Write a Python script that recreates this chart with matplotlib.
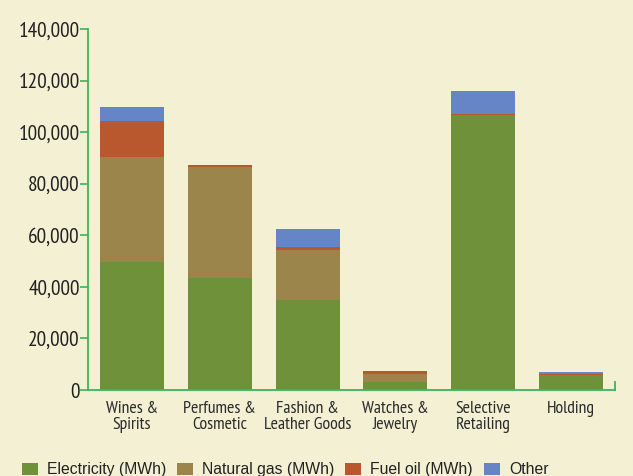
import matplotlib
matplotlib.use("Agg")
import matplotlib.pyplot as plt
from matplotlib.patches import Patch
import numpy as np

categories = ["Wines &\nSpirits", "Perfumes &\nCosmetic", "Fashion &\nLeather Goods",
              "Watches &\nJewelry", "Selective\nRetailing", "Holding"]
electricity = [49500, 43500, 34900, 3200, 106600, 5900]
natural_gas = [40800, 42900, 19400, 3000, 0, 0]
fuel_oil = [14000, 800, 1000, 1200, 600, 400]
other = [5400, 0, 7100, 0, 8700, 700]
series_names = ["Electricity (MWh)", "Natural gas (MWh)", "Fuel oil (MWh)", "Other"]
colors = ["#6e913a", "#9c854a", "#b9572f", "#6685c6"]
yticks = [0, 20000, 40000, 60000, 80000, 100000, 120000, 140000]

plt.rcParams['font.family'] = ['PT Sans Narrow', 'DejaVu Sans']
bg = "#f3f0d3"
axis_green = "#3cb55a"

fig = plt.figure(figsize=(6.33, 4.76), dpi=100, facecolor=bg)
ax = fig.add_axes([88/633, 1-390/476, (615-88)/633, (390-29)/476], facecolor=bg)

x = np.arange(len(categories))
bottom = np.zeros(len(categories))
for vals, c in zip([electricity, natural_gas, fuel_oil, other], colors):
    v = np.array(vals, dtype=float)
    ax.bar(x, v, width=0.727, bottom=bottom, color=c, linewidth=0)
    bottom += v

ax.set_xlim(-0.5, 5.5)
ax.set_ylim(0, 140000)
ax.set_yticks(yticks)
ax.set_yticklabels([f"{t:,}" for t in yticks], fontsize=15.3, color="#222222")
ax.tick_params(axis='y', length=6, width=1.2, color=axis_green, pad=0)
ax.set_xticks(x)
ax.set_xticklabels(categories, fontsize=12.8, color="#2a2a2a", linespacing=1.0)
ax.tick_params(axis='x', length=0, pad=8)
for s in ["top", "right"]:
    ax.spines[s].set_visible(False)
ax.spines["left"].set_color(axis_green)
ax.spines["left"].set_linewidth(1.3)
ax.spines["bottom"].set_color(axis_green)
ax.spines["bottom"].set_linewidth(1.3)
ax.plot([1, 1], [0, 0.022], transform=ax.transAxes, color=axis_green, lw=1.3, clip_on=False)

handles = [Patch(facecolor=c, edgecolor='none') for c in colors]
fig.legend(handles, series_names, loc='center left', bbox_to_anchor=(22/633, 0.013),
           ncol=4, frameon=False, handlelength=1.02, handleheight=0.75,
           handletextpad=0.57, columnspacing=0.7, borderpad=0, borderaxespad=0,
           labelcolor="#222222",
           prop={'family': ['Liberation Sans', 'DejaVu Sans'], 'size': 11.3})

fig.savefig("out.png", dpi=100, facecolor=bg)
